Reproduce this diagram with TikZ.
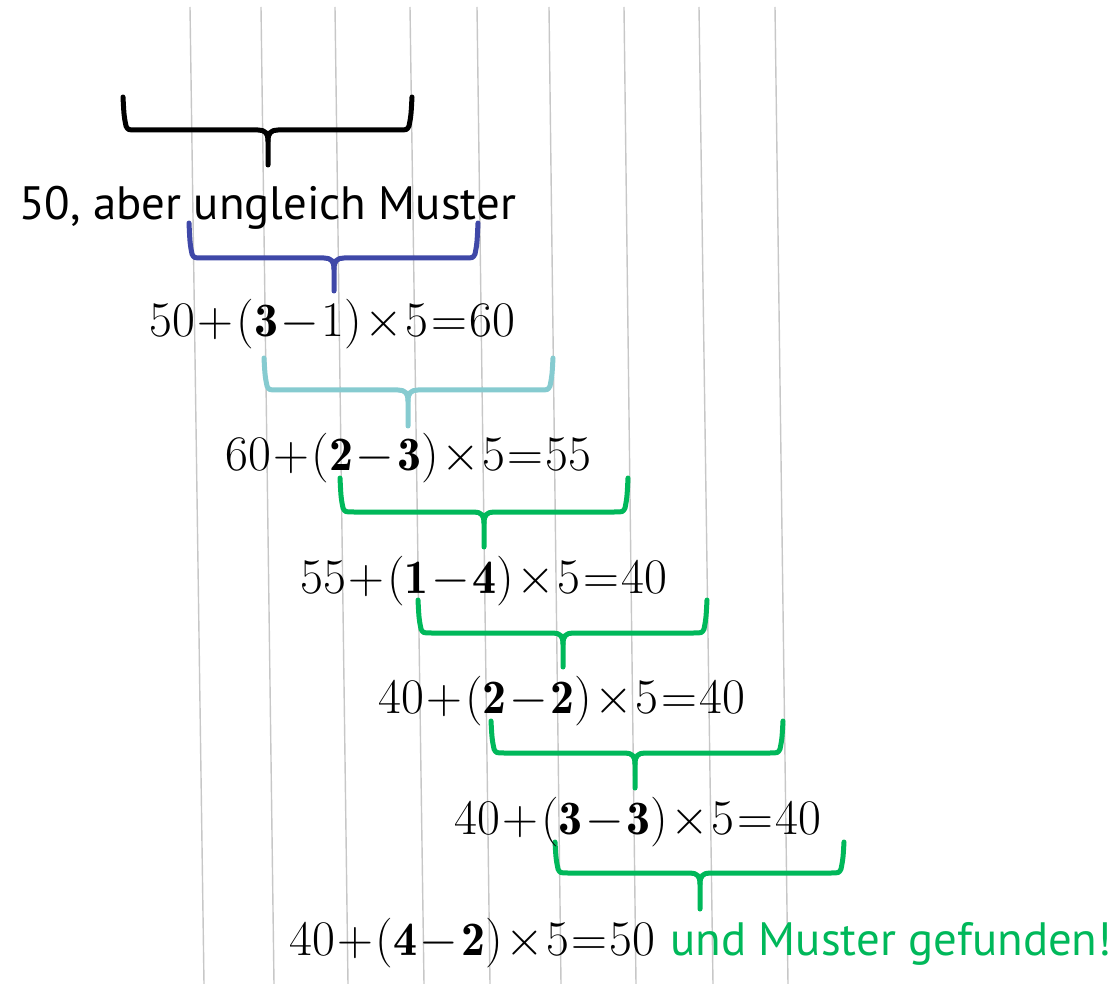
\documentclass[tikz,border=0pt]{standalone}
\usepackage{fontspec}
\newfontfamily\hdfont{PT Sans}
\definecolor{brblue}{RGB}{63,72,168}
\definecolor{brteal}{RGB}{134,203,208}
\definecolor{brgreen}{RGB}{0,184,90}
\tikzset{
  grid line/.style={draw=black!22, line width=0.7pt},
  bracestyle/.style={line width=2.5pt, line cap=round, line join=round},
  eqn/.style={anchor=base, inner sep=0pt, font=\fontsize{24}{28}\selectfont},
  txt/.style={inner sep=0pt, font=\hdfont\fontsize{23.4}{28}\selectfont},
}
\newcommand\mybr[7]{% color, xl, xr, ytop, ymid, xc, ytip
  \draw[bracestyle,#1] (#2,#4) .. controls (#2+1,#5-14) .. (#2+3,#5-4)
     .. controls (#2+5,#5) .. (#2+14,#5) -- (#6-10,#5)
     .. controls (#6-3,#5) and (#6,#5+3) .. (#6,#5+11) -- (#6,#7);
  \draw[bracestyle,#1] (#3,#4) .. controls (#3-1,#5-14) .. (#3-3,#5-4)
     .. controls (#3-5,#5) .. (#3-14,#5) -- (#6+10,#5)
     .. controls (#6+3,#5) and (#6,#5+3) .. (#6,#5+11);
}
\newcommand\eq[4]{\ensuremath{\medmuskip=0.9mu\thickmuskip=0.9mu #1+(#2-#3)\times5=#4}}
\begin{document}
\begin{tikzpicture}[x=0.5pt,y=-0.5pt]
\useasboundingbox (0,0) rectangle (1120,984);
% gray lines
\foreach \a/\b in {190/204,261/274,335/348,410/424,477/490,549/561,624/636,699/713,775/788}
  \draw[grid line] (\a,7) -- (\b,984);
% braces
\mybr{black}{123}{412}{97}{130}{268}{165}
\mybr{brblue}{189}{478}{223}{258}{334}{291}
\mybr{brteal}{264}{553}{358}{390}{408}{426}
\mybr{brgreen}{340}{628}{478}{512}{484}{547}
\mybr{brgreen}{418}{707}{600}{633}{563}{667}
\mybr{brgreen}{491}{783}{721}{753}{635}{788}
\mybr{brgreen}{555}{844}{842}{873}{700}{909}
% texts
\node[txt, anchor=base] (h) at (267.5,220) {50, aber ungleich Muster};
\node[eqn] (e1) at (332.5,337) {\eq{50}{\mathbf{3}}{1}{60}};
\node[eqn] (e2) at (408.5,470) {\eq{60}{\mathbf{2}}{\mathbf{3}}{55}};
\node[eqn] (e3) at (484,593) {\eq{55}{\mathbf{1}}{\mathbf{4}}{40}};
\node[eqn] (e4) at (562,713) {\eq{40}{\mathbf{2}}{\mathbf{2}}{40}};
\node[eqn] (e5) at (638,834) {\eq{40}{\mathbf{3}}{\mathbf{3}}{40}};
\node[eqn] (e6) at (472.5,955) {\eq{40}{\mathbf{4}}{\mathbf{2}}{50}};
\node[txt, anchor=base west, text=brgreen] (g) at (670,955) {und Muster gefunden!};
\end{tikzpicture}
\end{document}
